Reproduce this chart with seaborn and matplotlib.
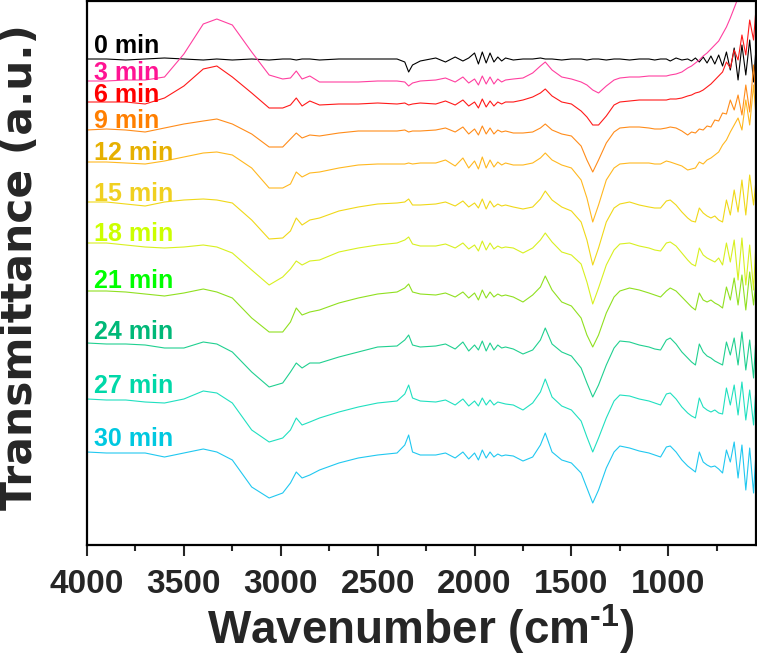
import numpy as np
import pandas as pd
import matplotlib
matplotlib.use("Agg")
import matplotlib.pyplot as plt
import seaborn as sns
from matplotlib.ticker import MultipleLocator

# ---------------- data (offset-stacked spectra, arbitrary units) ----------------
wavenumber = [4000, 3900, 3800, 3700, 3600, 3500, 3400, 3330, 3250, 3150, 3060,
              2990, 2950, 2920, 2890, 2850, 2800,
              2700, 2600, 2500, 2400, 2360, 2340, 2320, 2280,
              2200, 2150, 2100, 2060, 2030, 2000, 1980, 1960, 1940, 1920, 1900, 1880, 1860, 1840,
              1800, 1750, 1700, 1660, 1635, 1600, 1550, 1500, 1450, 1420, 1390, 1360, 1320, 1280, 1250,
              1200, 1150, 1100, 1070, 1040, 1010, 990, 960, 930, 900,
              880, 860, 840, 820, 800, 780, 760, 740, 720, 700, 680, 660, 640, 620, 600, 580, 560, 550]

t_0 = [-59, -59, -60, -59, -58, -59, -60, -59, -60, -59, -60,
       -59, -59, -60, -59, -59, -60,
       -59, -59, -59, -59, -62, -72, -65, -61,
       -58, -62, -57, -61, -58, -53, -64, -52, -63, -53, -62, -57, -61, -58,
       -60, -59, -59, -58, -59, -59, -60, -59, -59, -60, -59, -59, -60, -59, -59,
       -60, -59, -59, -60, -59, -59, -61, -58, -60, -59,
       -61, -58, -62, -57, -63, -56, -64, -55, -66, -52, -70, -48, -80, -45, -75, -40, -82, -55]

t_3 = [-81, -81, -80, -80, -77, -54, -24, -19, -25, -52, -75,
       -79, -78, -71, -79, -76, -82,
       -82, -82, -81, -81, -82, -86, -83, -81,
       -80, -78, -82, -77, -83, -79, -85, -76, -84, -77, -84, -79, -82, -80,
       -79, -78, -73, -66, -62, -70, -77, -79, -82, -85, -90, -93, -86, -80, -78,
       -77, -77, -76, -76, -76, -76, -75, -74, -72, -68,
       -66, -63, -60, -56, -53, -49, -45, -41, -34, -27, -18, -8, 2, 10, 18, 25, 30, 30]

t_6 = [-102, -102, -102, -104, -98, -86, -69, -66, -77, -93, -108,
       -108, -105, -98, -106, -101, -105,
       -104, -104, -103, -104, -103, -105, -104, -103,
       -104, -101, -105, -100, -106, -102, -108, -99, -107, -101, -106, -102, -104, -102,
       -102, -100, -97, -93, -89, -96, -102, -104, -111, -117, -125, -125, -116, -105, -102,
       -101, -100, -100, -100, -100, -100, -99, -99, -98, -96,
       -95, -93, -92, -90, -87, -84, -80, -76, -72, -62, -68, -50, -60, -35, -55, -20, -40, -15]

t_9 = [-130, -129, -130, -132, -128, -124, -121, -119, -124, -134, -147,
       -147, -139, -133, -138, -135, -136,
       -133, -131, -131, -131, -130, -132, -131, -131,
       -130, -128, -132, -127, -134, -129, -135, -126, -134, -128, -134, -130, -132, -131,
       -133, -133, -132, -128, -124, -130, -134, -136, -146, -160, -172, -160, -143, -132, -128,
       -127, -127, -128, -129, -129, -128, -127, -128, -131, -135,
       -132, -133, -129, -130, -126, -127, -120, -121, -113, -114, -100, -110, -95, -115, -85, -112, -65, -95]

t_12 = [-162, -162, -163, -164, -161, -157, -153, -152, -155, -168, -188,
        -188, -184, -172, -177, -173, -172,
        -168, -165, -164, -164, -164, -163, -164, -163,
        -163, -160, -166, -158, -168, -161, -169, -157, -168, -160, -167, -162, -165, -163,
        -165, -165, -163, -158, -153, -160, -165, -168, -180, -198, -222, -205, -180, -168, -164,
        -163, -163, -163, -164, -164, -161, -162, -164, -166, -170,
        -169, -168, -162, -164, -160, -158, -155, -152, -145, -140, -132, -125, -118, -130, -100, -125, -85, -110]

t_15 = [-202, -202, -204, -206, -202, -200, -199, -200, -203, -220, -239,
        -238, -231, -218, -225, -220, -218,
        -211, -207, -204, -203, -202, -199, -205, -205,
        -204, -202, -206, -201, -207, -203, -208, -199, -209, -201, -207, -204, -206, -205,
        -207, -209, -207, -199, -191, -200, -207, -211, -222, -240, -265, -248, -222, -208, -204,
        -202, -205, -207, -208, -208, -201, -200, -205, -212, -218,
        -221, -222, -208, -213, -216, -218, -216, -220, -222, -200, -215, -190, -212, -180, -215, -175, -205, -185]

t_18 = [-243, -243, -245, -247, -248, -247, -245, -247, -253, -270, -285,
        -277, -269, -261, -265, -261, -260,
        -252, -248, -245, -243, -240, -237, -244, -246,
        -246, -244, -248, -243, -249, -245, -251, -241, -250, -243, -249, -246, -248, -247,
        -248, -253, -248, -240, -233, -242, -252, -255, -264, -282, -304, -288, -265, -250, -244,
        -243, -246, -248, -250, -251, -243, -242, -246, -253, -260,
        -264, -266, -248, -255, -258, -260, -262, -258, -265, -243, -262, -240, -280, -238, -285, -245, -290, -250]

t_21 = [-291, -291, -292, -294, -296, -293, -289, -292, -298, -318, -332,
        -332, -322, -308, -315, -312, -310,
        -303, -298, -294, -292, -288, -284, -292, -294,
        -295, -293, -297, -292, -298, -293, -300, -290, -298, -292, -297, -294, -296, -295,
        -297, -302, -295, -287, -276, -290, -302, -306, -318, -335, -347, -335, -313, -297, -291,
        -288, -290, -293, -295, -297, -291, -288, -291, -297, -303,
        -307, -310, -293, -300, -302, -300, -303, -305, -308, -287, -300, -278, -305, -275, -310, -272, -305, -285]

t_24 = [-343, -344, -344, -345, -348, -348, -342, -344, -352, -372, -387,
        -383, -372, -363, -368, -363, -363,
        -357, -352, -347, -346, -340, -335, -345, -347,
        -346, -344, -349, -342, -351, -345, -350, -341, -351, -343, -350, -345, -348, -347,
        -349, -354, -350, -340, -328, -344, -352, -356, -368, -383, -397, -385, -365, -348, -341,
        -342, -345, -347, -349, -350, -340, -338, -344, -352, -358,
        -362, -365, -344, -352, -356, -358, -361, -363, -365, -342, -355, -338, -365, -332, -370, -340, -378, -345]

t_27 = [-399, -400, -400, -402, -403, -399, -391, -393, -403, -430, -442,
        -438, -430, -418, -425, -422, -418,
        -412, -407, -403, -401, -394, -385, -398, -401,
        -402, -400, -405, -399, -406, -401, -406, -398, -405, -400, -405, -402, -403, -404,
        -405, -410, -403, -392, -379, -397, -406, -410, -421, -437, -452, -438, -418, -401, -395,
        -396, -399, -401, -403, -405, -394, -393, -399, -407, -413,
        -416, -418, -398, -407, -410, -412, -410, -413, -414, -388, -405, -385, -415, -382, -420, -390, -425, -395]

t_30 = [-452, -453, -453, -453, -457, -453, -449, -452, -460, -487, -498,
        -493, -483, -472, -478, -475, -470,
        -463, -458, -455, -453, -445, -435, -452, -455,
        -455, -453, -458, -452, -459, -453, -460, -450, -458, -452, -457, -454, -456, -455,
        -456, -461, -457, -445, -433, -452, -460, -463, -473, -488, -503, -490, -468, -452, -446,
        -448, -451, -453, -455, -457, -447, -446, -452, -460, -466,
        -469, -472, -452, -462, -465, -467, -466, -469, -473, -450, -462, -442, -478, -445, -490, -448, -493, -460]

times = ["0 min", "3 min", "6 min", "9 min", "12 min", "15 min",
         "18 min", "21 min", "24 min", "27 min", "30 min"]
spectra = [t_0, t_3, t_6, t_9, t_12, t_15, t_18, t_21, t_24, t_27, t_30]

# ---------------- styling / layout ----------------
line_colors = ["#000000", "#ff3fa0", "#ff1a1a", "#ff8c1a", "#ffb820", "#f0d818",
               "#d8f020", "#90e020", "#20d090", "#20e0c0", "#20c8f0"]
label_colors = ["#000000", "#ff1493", "#ff0000", "#ff7f00", "#e6b000", "#f0d020",
                "#ccff00", "#00ff00", "#00b878", "#00d8a8", "#00c8e0"]
label_baseline = [-53, -80, -102, -128, -160, -201, -241, -288, -339, -393, -446]
label_x = 3964

for s in spectra:
    assert len(s) == len(wavenumber), len(s)

df = pd.DataFrame({
    "Wavenumber": np.tile(wavenumber, len(times)),
    "Transmittance": np.concatenate(spectra),
    "Time": np.repeat(times, len(wavenumber)),
})

sns.set_theme(style="ticks")
plt.rcParams["font.family"] = ["Liberation Sans", "DejaVu Sans"]
plt.rcParams["mathtext.fontset"] = "custom"
plt.rcParams["mathtext.rm"] = "Liberation Sans:bold"
plt.rcParams["mathtext.bf"] = "Liberation Sans:bold"

W, H = 757, 658
fig = plt.figure(figsize=(W / 100, H / 100), dpi=100)
ax = fig.add_axes([87 / W, (H - 545) / H, (755.5 - 87) / W, 544 / H])

sns.lineplot(data=df, x="Wavenumber", y="Transmittance", hue="Time",
             hue_order=times, palette=line_colors, estimator=None, sort=False,
             linewidth=0.8, legend=False, ax=ax)

for name, yb, c in zip(times, label_baseline, label_colors):
    ax.text(label_x, yb, name, color=c, fontsize=18, fontweight="bold",
            ha="left", va="baseline")

ax.set_xlim(4000, 550)
ax.set_ylim(-545, -1)
ax.xaxis.set_major_locator(MultipleLocator(500))
ax.xaxis.set_minor_locator(MultipleLocator(250))
ax.set_yticks([])
ax.tick_params(axis="x", which="major", direction="out", length=8, width=1.5,
               labelsize=24, pad=9)
ax.tick_params(axis="x", which="minor", direction="out", length=4.5, width=1.5)
for lab in ax.get_xticklabels():
    lab.set_fontweight("bold")
for sp in ax.spines.values():
    sp.set_visible(True)
    sp.set_linewidth(1.6)
    sp.set_color("black")

ax.set_xlabel(r"Wavenumber (cm$^{\text{-1}}$)", fontsize=33, fontweight="bold", labelpad=2)
ax.set_ylabel("Transmittance (a.u.)", fontsize=30.5, fontweight="bold",
              family=["DejaVu Sans"])
ax.yaxis.set_label_coords(-0.0685, 0.511)

fig.savefig("out.png", dpi=100)
